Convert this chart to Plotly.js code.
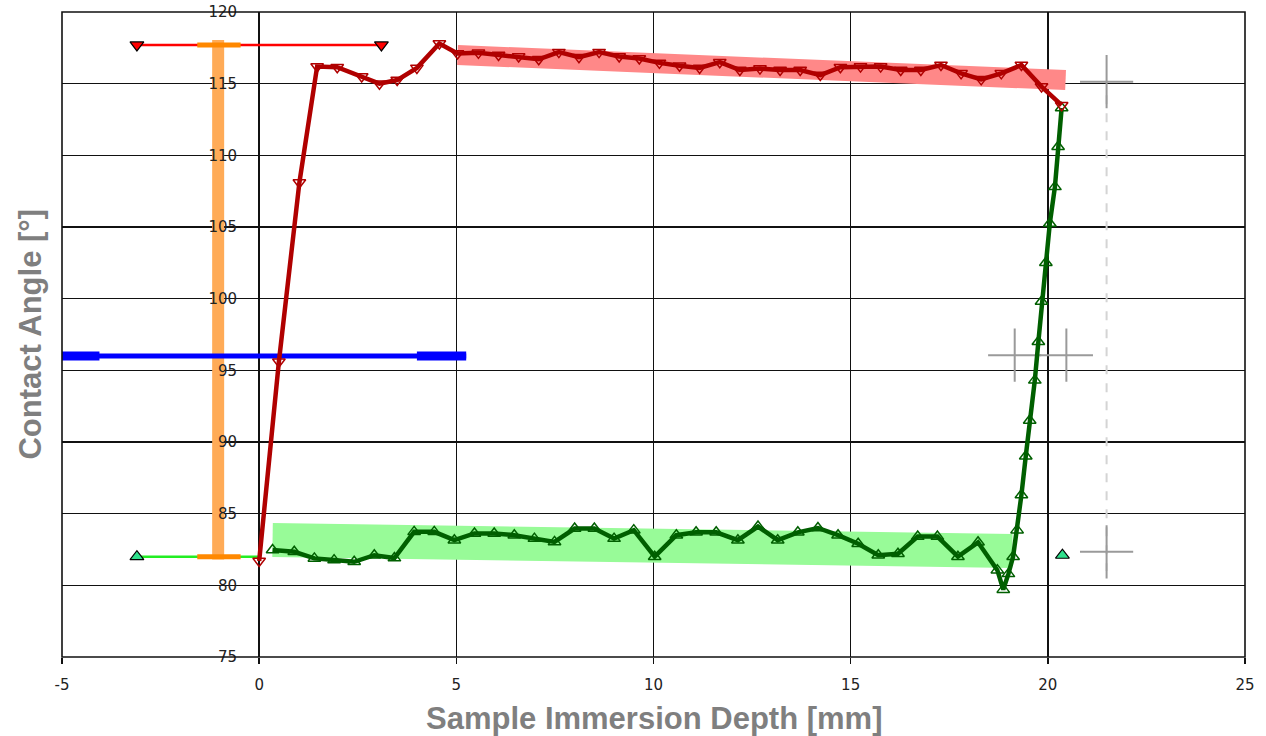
<!DOCTYPE html>
<html><head><meta charset="utf-8">
<script src="https://cdn.plot.ly/plotly-3.0.1.min.js"></script>
<style>html,body{margin:0;padding:0;background:#fff}#chart{width:1266px;height:736px}</style>
</head><body><div id="chart"></div>
<script>
// Advancing (immersion) contact angle, red
const advX = [0, 0.5, 1.02, 1.47, 1.98, 2.6, 3.05, 3.5, 4.0, 4.57, 5.03, 5.56, 6.07, 6.58, 7.09, 7.6, 8.11, 8.62, 9.13, 9.64, 10.15, 10.66, 11.17, 11.68, 12.19, 12.7, 13.21, 13.72, 14.23, 14.74, 15.25, 15.76, 16.27, 16.78, 17.29, 17.8, 18.31, 18.82, 19.33, 19.84, 20.35];
const advY = [81.7, 95.6, 108.1, 116.2, 116.15, 115.5, 115.0, 115.25, 116.1, 117.8, 117.1, 117.15, 117.0, 116.9, 116.7, 117.2, 116.85, 117.2, 116.9, 116.75, 116.45, 116.25, 116.1, 116.5, 115.95, 116.05, 115.95, 115.95, 115.6, 116.15, 116.19, 116.19, 115.95, 115.95, 116.3, 115.72, 115.3, 115.72, 116.3, 114.8, 113.5];
// Receding (emersion) contact angle, green (acquisition order)
const recX = [20.35, 20.26, 20.18, 20.05, 19.95, 19.84, 19.76, 19.67, 19.54, 19.44, 19.33, 19.22, 19.12, 19.0, 18.87, 18.72, 18.23, 17.72, 17.2, 16.7, 16.2, 15.7, 15.19, 14.68, 14.17, 13.66, 13.15, 12.65, 12.14, 11.59, 11.08, 10.58, 10.03, 9.5, 9.0, 8.5, 8.0, 7.49, 6.98, 6.47, 5.96, 5.46, 4.95, 4.44, 3.93, 3.43, 2.92, 2.41, 1.9, 1.4, 0.89, 0.34];
const recY = [113.3, 110.6, 107.8, 105.25, 102.5, 99.8, 97.0, 94.3, 91.5, 89.0, 86.3, 83.85, 82.0, 80.8, 79.7, 81.06, 83.0, 82.0, 83.4, 83.4, 82.2, 82.1, 82.9, 83.5, 84.0, 83.7, 83.15, 84.1, 83.15, 83.7, 83.7, 83.5, 82.0, 83.85, 83.26, 83.96, 83.96, 83.03, 83.26, 83.5, 83.62, 83.62, 83.15, 83.73, 83.73, 81.9, 82.1, 81.64, 81.76, 81.88, 82.34, 82.46];
// Linear fit bands
const advFitX = [5.03, 20.45];
const advFitY = [117.0, 115.25];
const recFitX = [0.34, 19.1];
const recFitY = [83.17, 82.4];
// Mean reference markers
const advRefX = [-3.1, 3.1];
const advRefY = [117.7, 117.7];
const recRefX = [-3.1, 0];
const recRefY = [82.0, 82.0];
const recEndX = [20.37];
const recEndY = [82.1];
// Hysteresis bar
const hystX = [-1.04, -1.04];
const hystY = [118.05, 81.8];
const capX = [-1.57, -0.47];
const capTopY = [117.7, 117.7];
const capBotY = [82.0, 82.0];
// Static angle line
const statX = [-5, 5.25];
const statY = [96.0, 96.0];
const statEndLX = [-5, -4.05];
const statEndRX = [4.0, 5.25];
// Cursor crosses and guide
const crossX = [21.49, 19.16, 20.47, 21.49];
const crossY = [115.14, 96.06, 96.06, 82.34];
const guideX = [21.49, 21.49];
const guideY = [114.2, 81.0];
// Ticks
const xTicks = [-5, 0, 5, 10, 15, 20, 25];
const yTicks = [75, 80, 85, 90, 95, 100, 105, 110, 115, 120];

const ln = (x, y, color, width, extra) => Object.assign({x: x, y: y, type: 'scatter', mode: 'lines', hoverinfo: 'skip', showlegend: false, line: {color: color, width: width}}, extra || {});

const traces = [
  ln(recFitX, recFitY, '#98fb98', 34),
  ln(advFitX, advFitY, '#ff8888', 20),
  ln(hystX, hystY, '#ffab57', 12),
  ln(guideX, guideY, '#d4d4d4', 2, {line: {color: '#d4d4d4', width: 2, dash: 'dash'}}),
  {x: crossX, y: crossY, type: 'scatter', mode: 'markers', showlegend: false, hoverinfo: 'skip',
   marker: {symbol: 'cross-thin', size: 38, line: {color: '#9a9a9a', width: 2}}},
  ln(statX, statY, '#0000ff', 5),
  ln(statEndLX, statY, '#0000ff', 9),
  ln(statEndRX, statY, '#0000ff', 9),
  ln(recRefX, recRefY, '#22ee22', 2.5),
  ln(advRefX, advRefY, '#ff0000', 2.5),
  ln(capX, capTopY, '#ff8800', 5),
  ln(capX, capBotY, '#ff8800', 5),
  {x: [advRefX[0], advRefX[1]], y: advRefY, type: 'scatter', mode: 'markers', showlegend: false, hoverinfo: 'skip',
   marker: {symbol: 'triangle-down', size: 12, color: '#ff0000', line: {color: '#000', width: 1.2}}},
  {x: [recRefX[0]].concat(recEndX), y: [recRefY[0]].concat(recEndY), type: 'scatter', mode: 'markers', showlegend: false, hoverinfo: 'skip',
   marker: {symbol: 'triangle-up', size: 12, color: '#2ee08c', line: {color: '#000', width: 1.2}}},
  {x: recX, y: recY, type: 'scatter', mode: 'lines+markers', showlegend: false, hoverinfo: 'skip',
   line: {color: '#005f00', width: 4.5},
   marker: {symbol: 'triangle-up-open', size: 11, color: '#005f00', line: {color: '#005f00', width: 1.5}}},
  {x: advX, y: advY, type: 'scatter', mode: 'lines+markers', showlegend: false, hoverinfo: 'skip',
   line: {color: '#b00000', width: 4.5},
   marker: {symbol: 'triangle-down-open', size: 11, color: '#b00000', line: {color: '#b00000', width: 1.5}}}
];

const tickFont = {family: 'DejaVu Sans, sans-serif', size: 15, color: '#222'};
const titleFont = {family: 'Liberation Sans, Arial, sans-serif', size: 31, color: '#7f7f7f'};

const layout = {
  width: 1266, height: 736,
  margin: {l: 62, r: 21, t: 12, b: 79},
  paper_bgcolor: '#fff', plot_bgcolor: '#fff',
  showlegend: false,
  xaxis: {range: [-5, 25], tickvals: xTicks, ticktext: xTicks.map(String), showgrid: true, gridcolor: '#111', gridwidth: 1.6,
          zeroline: false, showline: false, ticks: 'outside', ticklen: 6, tickwidth: 1.5, tickcolor: '#111',
          tickfont: tickFont, ticklabelstandoff: 8, fixedrange: true},
  yaxis: {range: [75, 120], tickvals: yTicks, ticktext: yTicks.map(String), showgrid: true, gridcolor: '#111', gridwidth: 1.6,
          zeroline: false, showline: false, ticks: '', anchor: 'free', position: 0.148,
          tickfont: tickFont, fixedrange: true},
  shapes: [{type: 'rect', xref: 'paper', yref: 'paper', x0: 0, x1: 1, y0: 0, y1: 1, line: {color: '#111', width: 1.6}, layer: 'above'}],
  annotations: [
    {text: '<b>Sample Immersion Depth [mm]</b>', xref: 'paper', yref: 'paper', x: 0.5, y: -0.095, xanchor: 'center', yanchor: 'middle', showarrow: false, font: titleFont},
    {text: '<b>Contact Angle [°]</b>', xref: 'paper', yref: 'paper', x: -0.027, y: 0.5, xanchor: 'center', yanchor: 'middle', textangle: -90, showarrow: false, font: titleFont}
  ]
};

Plotly.newPlot('chart', traces, layout, {displayModeBar: false, staticPlot: true});
</script>
</body></html>
